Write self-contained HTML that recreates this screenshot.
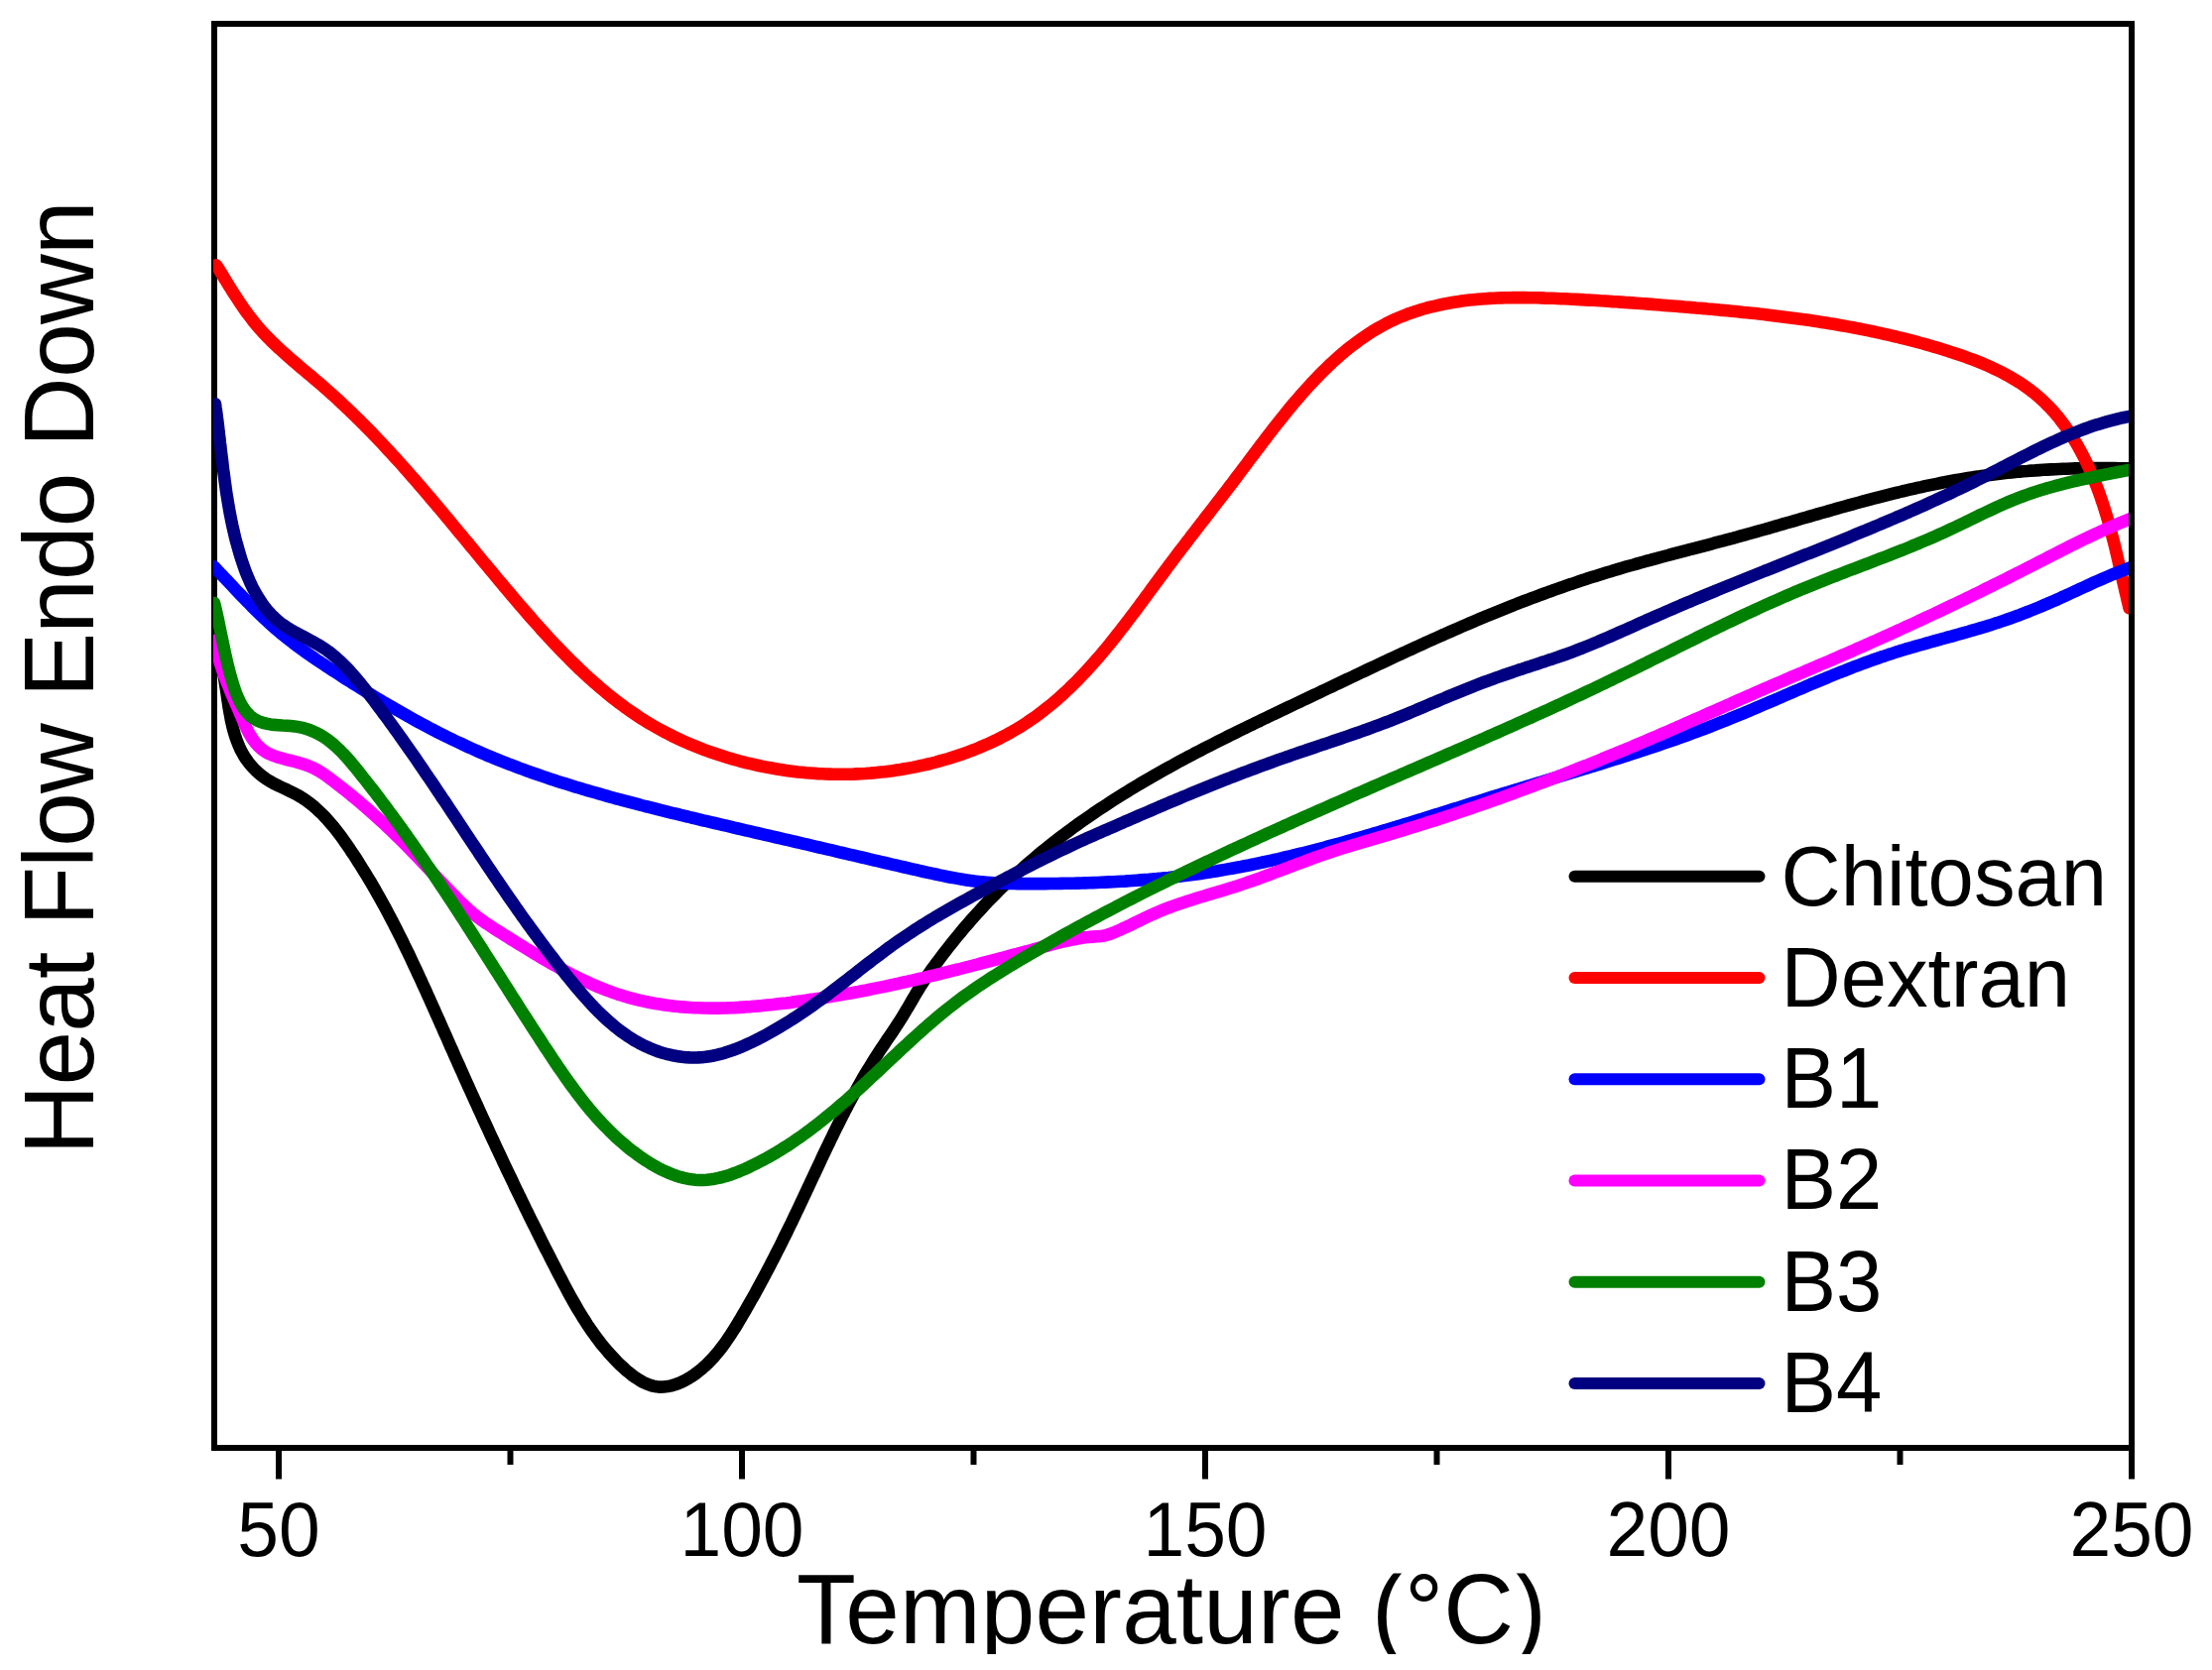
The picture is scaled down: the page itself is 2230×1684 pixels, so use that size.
<!DOCTYPE html>
<html><head><meta charset="utf-8"><title>DSC thermogram</title>
<style>
html,body{margin:0;padding:0;background:#fff}
svg{display:block}
text{font-family:"Liberation Sans",Arial,sans-serif;fill:#000}
</style></head>
<body>
<svg width="2230" height="1684" viewBox="0 0 2230 1684">
<rect width="2230" height="1684" fill="#fff"/>
<defs><clipPath id="t"><rect x="780" y="1586.5" width="800" height="81.5"/></clipPath><clipPath id="c"><rect x="215" y="27" width="1931" height="1430"/></clipPath></defs>
<rect x="216" y="24" width="1933" height="1436" fill="none" stroke="#000" stroke-width="6"/>
<g stroke="#000" stroke-width="6" fill="none">
<line x1="281.0" x2="281.0" y1="1460" y2="1491.5"/><line x1="748.0" x2="748.0" y1="1460" y2="1491.5"/><line x1="1215.0" x2="1215.0" y1="1460" y2="1491.5"/><line x1="1682.0" x2="1682.0" y1="1460" y2="1491.5"/><line x1="2149.0" x2="2149.0" y1="1460" y2="1491.5"/><line x1="514.5" x2="514.5" y1="1460" y2="1477"/><line x1="981.5" x2="981.5" y1="1460" y2="1477"/><line x1="1448.5" x2="1448.5" y1="1460" y2="1477"/><line x1="1915.5" x2="1915.5" y1="1460" y2="1477"/>
</g>
<text transform="translate(281.0,1568.5) scale(1,1.045)" font-size="75" text-anchor="middle">50</text>
<text transform="translate(748.0,1568.5) scale(1,1.045)" font-size="75" text-anchor="middle">100</text>
<text transform="translate(1215.0,1568.5) scale(1,1.045)" font-size="75" text-anchor="middle">150</text>
<text transform="translate(1682.0,1568.5) scale(1,1.045)" font-size="75" text-anchor="middle">200</text>
<text transform="translate(2149.0,1568.5) scale(1,1.045)" font-size="75" text-anchor="middle">250</text>

<g clip-path="url(#c)" fill="none" stroke-width="12.6" stroke-linejoin="round" stroke-linecap="round">
<path d="M216.3,630.1 L216.8,634.2 L217.4,638.2 L218.1,642.1 L218.8,646.0 L219.5,649.9 L220.3,653.8 L221.0,657.6 L221.8,661.5 L222.6,665.3 L223.3,669.2 L224.1,673.1 L224.9,677.0 L225.6,680.9 L226.3,684.8 L226.9,688.8 L227.6,692.9 L228.2,696.9 L228.8,701.0 L229.4,705.1 L230.0,709.2 L230.6,713.3 L231.3,717.4 L232.1,721.5 L232.8,725.6 L233.7,729.6 L234.6,733.5 L235.7,737.5 L236.8,741.3 L238.1,745.1 L239.5,748.9 L241.0,752.5 L242.6,756.1 L244.5,759.5 L246.4,762.9 L248.6,766.1 L250.9,769.2 L253.4,772.2 L256.0,775.1 L258.7,777.8 L261.6,780.4 L264.7,782.9 L267.9,785.2 L271.2,787.3 L274.7,789.3 L278.2,791.1 L281.8,792.9 L285.5,794.6 L289.2,796.3 L292.8,798.1 L296.4,799.9 L300.0,801.8 L303.4,803.8 L306.7,805.9 L310.0,808.2 L313.1,810.6 L316.2,813.0 L319.1,815.6 L322.0,818.3 L324.9,821.0 L327.6,823.9 L330.3,826.8 L332.9,829.8 L335.5,832.8 L338.0,835.9 L340.5,839.1 L342.9,842.3 L345.3,845.5 L347.6,848.8 L349.9,852.1 L352.2,855.4 L354.4,858.8 L356.7,862.1 L358.9,865.5 L361.0,868.9 L363.2,872.3 L365.3,875.7 L367.4,879.1 L369.5,882.5 L371.6,886.0 L373.7,889.4 L375.7,892.9 L377.7,896.3 L379.7,899.8 L381.7,903.3 L383.6,906.8 L385.6,910.3 L387.5,913.8 L389.4,917.3 L391.3,920.9 L393.2,924.4 L395.0,928.0 L396.9,931.5 L398.7,935.1 L400.5,938.6 L402.3,942.2 L404.1,945.8 L405.9,949.4 L407.6,953.0 L409.4,956.6 L411.2,960.2 L412.9,963.8 L414.6,967.4 L416.3,971.1 L418.0,974.7 L419.7,978.3 L421.4,982.0 L423.1,985.6 L424.8,989.2 L426.4,992.9 L428.1,996.5 L429.8,1000.2 L431.4,1003.9 L433.1,1007.5 L434.7,1011.2 L436.3,1014.8 L438.0,1018.5 L439.6,1022.2 L441.2,1025.8 L442.9,1029.5 L444.5,1033.2 L446.1,1036.8 L447.7,1040.5 L449.4,1044.2 L451.0,1047.8 L452.6,1051.5 L454.2,1055.2 L455.9,1058.8 L457.5,1062.5 L459.1,1066.2 L460.7,1069.8 L462.4,1073.5 L464.0,1077.1 L465.7,1080.8 L467.3,1084.5 L468.9,1088.1 L470.6,1091.8 L472.2,1095.4 L473.9,1099.1 L475.5,1102.7 L477.2,1106.4 L478.8,1110.0 L480.5,1113.6 L482.1,1117.3 L483.8,1120.9 L485.5,1124.6 L487.1,1128.2 L488.8,1131.8 L490.5,1135.5 L492.2,1139.1 L493.8,1142.7 L495.5,1146.4 L497.2,1150.0 L498.9,1153.6 L500.6,1157.3 L502.3,1160.9 L504.0,1164.5 L505.7,1168.1 L507.4,1171.8 L509.1,1175.4 L510.8,1179.0 L512.5,1182.6 L514.3,1186.2 L516.0,1189.8 L517.7,1193.4 L519.4,1197.1 L521.2,1200.7 L522.9,1204.3 L524.7,1207.9 L526.4,1211.5 L528.2,1215.1 L529.9,1218.7 L531.7,1222.3 L533.4,1225.9 L535.2,1229.5 L537.0,1233.1 L538.8,1236.6 L540.6,1240.2 L542.3,1243.8 L544.1,1247.4 L545.9,1251.0 L547.7,1254.6 L549.5,1258.2 L551.4,1261.7 L553.2,1265.3 L555.0,1268.9 L556.8,1272.5 L558.7,1276.0 L560.5,1279.6 L562.3,1283.2 L564.2,1286.7 L566.1,1290.3 L567.9,1293.8 L569.8,1297.4 L571.7,1300.9 L573.6,1304.5 L575.5,1308.0 L577.5,1311.5 L579.5,1315.0 L581.5,1318.5 L583.5,1321.9 L585.6,1325.3 L587.7,1328.8 L589.9,1332.1 L592.0,1335.5 L594.3,1338.8 L596.6,1342.2 L598.9,1345.4 L601.2,1348.7 L603.7,1351.9 L606.1,1355.1 L608.7,1358.2 L611.3,1361.3 L613.9,1364.4 L616.7,1367.4 L619.5,1370.4 L622.3,1373.3 L625.2,1376.2 L628.3,1379.0 L631.3,1381.8 L634.5,1384.4 L637.7,1387.0 L641.0,1389.3 L644.4,1391.5 L647.8,1393.5 L651.2,1395.1 L654.7,1396.5 L658.3,1397.6 L661.9,1398.3 L665.6,1398.6 L669.2,1398.5 L672.9,1398.1 L676.6,1397.4 L680.3,1396.3 L684.0,1395.0 L687.7,1393.4 L691.2,1391.6 L694.8,1389.5 L698.3,1387.3 L701.6,1385.0 L704.9,1382.4 L708.1,1379.8 L711.2,1377.1 L714.1,1374.2 L717.0,1371.3 L719.7,1368.4 L722.3,1365.3 L724.9,1362.2 L727.4,1359.0 L729.8,1355.8 L732.1,1352.5 L734.4,1349.2 L736.6,1345.8 L738.8,1342.4 L741.0,1339.0 L743.1,1335.6 L745.1,1332.1 L747.2,1328.7 L749.2,1325.2 L751.3,1321.7 L753.3,1318.2 L755.3,1314.7 L757.2,1311.3 L759.2,1307.8 L761.2,1304.3 L763.1,1300.8 L765.0,1297.2 L766.9,1293.7 L768.8,1290.2 L770.7,1286.7 L772.6,1283.1 L774.5,1279.6 L776.3,1276.1 L778.1,1272.5 L780.0,1269.0 L781.8,1265.4 L783.6,1261.8 L785.4,1258.3 L787.2,1254.7 L789.0,1251.1 L790.7,1247.5 L792.5,1244.0 L794.3,1240.4 L796.0,1236.8 L797.8,1233.2 L799.5,1229.6 L801.2,1226.0 L802.9,1222.4 L804.7,1218.7 L806.4,1215.1 L808.1,1211.5 L809.8,1207.9 L811.5,1204.3 L813.2,1200.6 L814.9,1197.0 L816.6,1193.4 L818.3,1189.7 L820.0,1186.1 L821.7,1182.5 L823.4,1178.8 L825.1,1175.2 L826.8,1171.6 L828.5,1167.9 L830.2,1164.3 L831.9,1160.7 L833.6,1157.1 L835.4,1153.5 L837.1,1149.8 L838.9,1146.2 L840.6,1142.6 L842.4,1139.0 L844.2,1135.4 L846.0,1131.9 L847.8,1128.3 L849.6,1124.7 L851.4,1121.1 L853.3,1117.6 L855.1,1114.0 L857.0,1110.5 L858.9,1107.0 L860.8,1103.4 L862.7,1099.9 L864.7,1096.4 L866.6,1092.9 L868.6,1089.5 L870.6,1086.0 L872.6,1082.5 L874.7,1079.1 L876.8,1075.7 L878.9,1072.3 L881.0,1068.9 L883.1,1065.5 L885.3,1062.1 L887.5,1058.7 L889.7,1055.4 L892.0,1052.1 L894.2,1048.7 L896.5,1045.4 L898.8,1042.1 L901.0,1038.8 L903.2,1035.4 L905.4,1032.1 L907.6,1028.7 L909.7,1025.3 L911.8,1021.8 L913.8,1018.4 L915.9,1014.9 L917.9,1011.5 L919.9,1008.0 L921.9,1004.6 L924.0,1001.1 L926.0,997.7 L928.1,994.3 L930.3,991.0 L932.4,987.6 L934.6,984.3 L936.9,981.0 L939.2,977.8 L941.5,974.6 L943.9,971.4 L946.3,968.2 L948.7,965.0 L951.1,961.8 L953.6,958.6 L956.0,955.5 L958.5,952.3 L961.0,949.2 L963.5,946.1 L966.1,943.0 L968.7,939.9 L971.2,936.8 L973.8,933.7 L976.5,930.7 L979.1,927.7 L981.8,924.6 L984.5,921.6 L987.2,918.7 L989.9,915.7 L992.6,912.8 L995.4,909.8 L998.2,906.9 L1001.0,904.0 L1003.8,901.2 L1006.6,898.3 L1009.5,895.5 L1012.4,892.7 L1015.2,889.9 L1018.2,887.2 L1021.1,884.5 L1024.0,881.7 L1027.0,879.0 L1030.0,876.4 L1033.0,873.7 L1036.0,871.1 L1039.0,868.5 L1042.0,865.9 L1045.1,863.3 L1048.2,860.7 L1051.2,858.2 L1054.4,855.7 L1057.5,853.2 L1060.6,850.7 L1063.8,848.2 L1066.9,845.8 L1070.1,843.4 L1073.3,841.0 L1076.5,838.6 L1079.7,836.2 L1082.9,833.8 L1086.2,831.5 L1089.4,829.2 L1092.7,826.9 L1096.0,824.6 L1099.3,822.3 L1102.6,820.0 L1105.9,817.8 L1109.2,815.6 L1112.5,813.4 L1115.9,811.2 L1119.2,809.0 L1122.6,806.8 L1126.0,804.7 L1129.4,802.5 L1132.8,800.4 L1136.2,798.3 L1139.6,796.2 L1143.0,794.1 L1146.4,792.1 L1149.9,790.0 L1153.3,788.0 L1156.8,786.0 L1160.3,784.0 L1163.7,782.0 L1167.2,780.0 L1170.7,778.0 L1174.2,776.0 L1177.7,774.1 L1181.2,772.2 L1184.7,770.2 L1188.2,768.3 L1191.8,766.4 L1195.3,764.5 L1198.8,762.6 L1202.4,760.8 L1205.9,758.9 L1209.5,757.1 L1213.0,755.2 L1216.6,753.4 L1220.2,751.6 L1223.8,749.7 L1227.3,747.9 L1230.9,746.1 L1234.5,744.3 L1238.1,742.5 L1241.7,740.7 L1245.3,739.0 L1248.9,737.2 L1252.5,735.4 L1256.1,733.7 L1259.7,731.9 L1263.3,730.2 L1266.9,728.4 L1270.5,726.7 L1274.1,724.9 L1277.8,723.2 L1281.4,721.4 L1285.0,719.7 L1288.6,718.0 L1292.2,716.3 L1295.9,714.5 L1299.5,712.8 L1303.1,711.1 L1306.7,709.4 L1310.3,707.7 L1314.0,705.9 L1317.6,704.2 L1321.2,702.5 L1324.8,700.8 L1328.5,699.1 L1332.1,697.3 L1335.7,695.6 L1339.3,693.9 L1342.9,692.2 L1346.6,690.4 L1350.2,688.7 L1353.8,687.0 L1357.4,685.3 L1361.0,683.6 L1364.7,681.9 L1368.3,680.1 L1371.9,678.4 L1375.5,676.7 L1379.1,675.0 L1382.8,673.3 L1386.4,671.6 L1390.0,669.9 L1393.6,668.2 L1397.3,666.5 L1400.9,664.8 L1404.5,663.1 L1408.1,661.4 L1411.8,659.7 L1415.4,658.1 L1419.0,656.4 L1422.7,654.7 L1426.3,653.1 L1430.0,651.4 L1433.6,649.7 L1437.2,648.1 L1440.9,646.4 L1444.5,644.8 L1448.2,643.1 L1451.8,641.5 L1455.5,639.9 L1459.1,638.2 L1462.8,636.6 L1466.5,635.0 L1470.1,633.4 L1473.8,631.8 L1477.5,630.2 L1481.2,628.6 L1484.8,627.1 L1488.5,625.5 L1492.2,623.9 L1495.9,622.4 L1499.6,620.8 L1503.3,619.3 L1507.0,617.8 L1510.7,616.3 L1514.4,614.8 L1518.1,613.3 L1521.8,611.8 L1525.5,610.3 L1529.3,608.9 L1533.0,607.4 L1536.7,606.0 L1540.5,604.6 L1544.2,603.2 L1548.0,601.8 L1551.7,600.4 L1555.5,599.0 L1559.2,597.6 L1563.0,596.3 L1566.7,594.9 L1570.5,593.6 L1574.3,592.3 L1578.1,590.9 L1581.8,589.6 L1585.6,588.4 L1589.4,587.1 L1593.2,585.8 L1597.0,584.6 L1600.8,583.3 L1604.6,582.1 L1608.4,580.9 L1612.2,579.7 L1616.1,578.5 L1619.9,577.3 L1623.7,576.2 L1627.5,575.0 L1631.4,573.9 L1635.2,572.8 L1639.1,571.6 L1642.9,570.5 L1646.8,569.5 L1650.6,568.4 L1654.5,567.3 L1658.3,566.2 L1662.2,565.2 L1666.0,564.1 L1669.9,563.1 L1673.8,562.0 L1677.6,561.0 L1681.5,560.0 L1685.4,558.9 L1689.2,557.9 L1693.1,556.9 L1697.0,555.9 L1700.9,554.9 L1704.7,553.8 L1708.6,552.8 L1712.5,551.8 L1716.4,550.8 L1720.3,549.8 L1724.1,548.8 L1728.0,547.7 L1731.9,546.7 L1735.8,545.7 L1739.6,544.6 L1743.5,543.6 L1747.4,542.6 L1751.3,541.5 L1755.1,540.4 L1759.0,539.4 L1762.9,538.3 L1766.7,537.2 L1770.6,536.1 L1774.5,535.0 L1778.3,534.0 L1782.2,532.9 L1786.0,531.7 L1789.9,530.6 L1793.8,529.5 L1797.6,528.4 L1801.5,527.3 L1805.3,526.2 L1809.2,525.1 L1813.0,524.0 L1816.9,522.8 L1820.8,521.7 L1824.6,520.6 L1828.5,519.5 L1832.3,518.4 L1836.2,517.3 L1840.1,516.2 L1843.9,515.1 L1847.8,514.0 L1851.6,512.9 L1855.5,511.8 L1859.4,510.7 L1863.2,509.7 L1867.1,508.6 L1871.0,507.5 L1874.8,506.5 L1878.7,505.4 L1882.6,504.4 L1886.4,503.4 L1890.3,502.3 L1894.2,501.3 L1898.1,500.3 L1901.9,499.4 L1905.8,498.4 L1909.7,497.4 L1913.6,496.5 L1917.5,495.5 L1921.4,494.6 L1925.3,493.7 L1929.2,492.8 L1933.1,491.9 L1937.0,491.1 L1940.9,490.2 L1944.8,489.4 L1948.7,488.6 L1952.6,487.8 L1956.6,487.0 L1960.5,486.2 L1964.4,485.5 L1968.4,484.7 L1972.3,484.0 L1976.2,483.4 L1980.2,482.7 L1984.1,482.1 L1988.1,481.4 L1992.0,480.8 L1996.0,480.3 L2000.0,479.7 L2003.9,479.2 L2007.9,478.7 L2011.9,478.2 L2015.9,477.7 L2019.8,477.2 L2023.8,476.8 L2027.8,476.4 L2031.8,476.0 L2035.8,475.6 L2039.8,475.3 L2043.8,475.0 L2047.8,474.6 L2051.8,474.4 L2055.8,474.1 L2059.8,473.8 L2063.8,473.6 L2067.8,473.4 L2071.8,473.2 L2075.8,473.0 L2079.9,472.8 L2083.9,472.7 L2087.9,472.5 L2091.9,472.4 L2095.9,472.3 L2099.9,472.2 L2103.9,472.1 L2107.9,472.1 L2111.9,472.1 L2116.0,472.0 L2120.0,472.0 L2124.0,472.0 L2128.0,472.1 L2132.0,472.1 L2136.0,472.2 L2140.0,472.2 L2144.0,472.3 L2148.0,472.4 L2152.0,472.5 L2156.0,472.7" stroke="#000000"/>
<path d="M218.0,267.3 L220.2,270.7 L222.3,274.1 L224.4,277.6 L226.4,281.0 L228.6,284.4 L230.7,287.9 L232.8,291.3 L234.9,294.7 L237.1,298.0 L239.3,301.4 L241.5,304.7 L243.7,308.0 L246.0,311.3 L248.3,314.6 L250.7,317.8 L253.1,320.9 L255.5,324.1 L258.0,327.1 L260.6,330.2 L263.2,333.2 L265.9,336.1 L268.6,339.0 L271.4,341.8 L274.3,344.7 L277.1,347.4 L280.0,350.2 L283.0,352.9 L286.0,355.6 L289.0,358.3 L292.0,360.9 L295.0,363.6 L298.1,366.2 L301.2,368.8 L304.2,371.4 L307.3,374.0 L310.4,376.6 L313.5,379.2 L316.6,381.8 L319.7,384.5 L322.7,387.1 L325.8,389.7 L328.8,392.4 L331.8,395.0 L334.8,397.7 L337.8,400.4 L340.8,403.1 L343.7,405.9 L346.6,408.6 L349.5,411.4 L352.4,414.1 L355.3,416.9 L358.2,419.7 L361.0,422.5 L363.9,425.3 L366.7,428.2 L369.5,431.0 L372.3,433.8 L375.1,436.7 L377.9,439.6 L380.6,442.5 L383.4,445.4 L386.1,448.3 L388.8,451.2 L391.5,454.1 L394.2,457.0 L396.9,460.0 L399.6,462.9 L402.3,465.9 L405.0,468.9 L407.6,471.9 L410.3,474.8 L412.9,477.8 L415.5,480.8 L418.2,483.8 L420.8,486.8 L423.4,489.9 L426.0,492.9 L428.6,495.9 L431.2,499.0 L433.8,502.0 L436.4,505.1 L439.0,508.1 L441.5,511.2 L444.1,514.2 L446.7,517.3 L449.2,520.4 L451.8,523.4 L454.4,526.5 L456.9,529.6 L459.5,532.7 L462.0,535.8 L464.6,538.8 L467.1,541.9 L469.7,545.0 L472.3,548.1 L474.8,551.2 L477.4,554.3 L479.9,557.4 L482.5,560.5 L485.0,563.6 L487.6,566.7 L490.2,569.8 L492.7,572.9 L495.3,575.9 L497.9,579.0 L500.4,582.1 L503.0,585.2 L505.6,588.3 L508.2,591.4 L510.8,594.5 L513.4,597.5 L516.0,600.6 L518.6,603.7 L521.2,606.8 L523.8,609.8 L526.5,612.9 L529.1,615.9 L531.8,619.0 L534.4,622.0 L537.1,625.1 L539.8,628.1 L542.5,631.1 L545.1,634.1 L547.9,637.1 L550.6,640.1 L553.3,643.1 L556.0,646.0 L558.8,649.0 L561.6,651.9 L564.3,654.8 L567.1,657.7 L570.0,660.6 L572.8,663.4 L575.6,666.3 L578.5,669.1 L581.4,671.9 L584.2,674.7 L587.2,677.4 L590.1,680.2 L593.0,682.9 L596.0,685.5 L599.0,688.2 L602.0,690.8 L605.0,693.4 L608.1,696.0 L611.1,698.6 L614.2,701.1 L617.3,703.6 L620.5,706.0 L623.6,708.4 L626.8,710.8 L630.0,713.2 L633.2,715.5 L636.5,717.7 L639.8,720.0 L643.1,722.2 L646.4,724.4 L649.7,726.5 L653.1,728.6 L656.5,730.6 L660.0,732.6 L663.5,734.6 L667.0,736.5 L670.5,738.4 L674.0,740.2 L677.6,742.0 L681.2,743.8 L684.8,745.5 L688.5,747.2 L692.1,748.8 L695.8,750.4 L699.5,751.9 L703.2,753.4 L707.0,754.9 L710.7,756.3 L714.5,757.7 L718.3,759.0 L722.1,760.3 L726.0,761.6 L729.8,762.8 L733.6,764.0 L737.5,765.1 L741.4,766.2 L745.3,767.3 L749.2,768.3 L753.1,769.3 L757.0,770.2 L760.9,771.1 L764.9,772.0 L768.8,772.8 L772.8,773.6 L776.7,774.3 L780.7,775.0 L784.7,775.7 L788.6,776.3 L792.6,776.9 L796.6,777.4 L800.5,777.9 L804.5,778.4 L808.5,778.8 L812.5,779.2 L816.5,779.5 L820.4,779.8 L824.4,780.1 L828.4,780.3 L832.4,780.5 L836.4,780.6 L840.4,780.7 L844.4,780.7 L848.3,780.8 L852.3,780.7 L856.3,780.7 L860.3,780.6 L864.3,780.4 L868.3,780.2 L872.3,780.0 L876.3,779.7 L880.2,779.4 L884.2,779.0 L888.2,778.6 L892.2,778.2 L896.1,777.7 L900.1,777.2 L904.1,776.6 L908.1,776.0 L912.0,775.3 L916.0,774.6 L920.0,773.9 L923.9,773.1 L927.9,772.2 L931.8,771.4 L935.7,770.5 L939.7,769.5 L943.6,768.5 L947.5,767.4 L951.4,766.3 L955.3,765.2 L959.2,764.0 L963.0,762.8 L966.9,761.5 L970.7,760.2 L974.5,758.8 L978.3,757.4 L982.1,756.0 L985.8,754.5 L989.5,752.9 L993.2,751.3 L996.9,749.7 L1000.6,748.0 L1004.2,746.3 L1007.8,744.5 L1011.3,742.6 L1014.9,740.8 L1018.4,738.9 L1021.8,736.9 L1025.3,734.9 L1028.7,732.8 L1032.0,730.7 L1035.4,728.5 L1038.6,726.3 L1041.9,724.1 L1045.1,721.8 L1048.3,719.4 L1051.4,717.0 L1054.5,714.6 L1057.6,712.1 L1060.7,709.6 L1063.7,707.1 L1066.7,704.5 L1069.6,701.8 L1072.5,699.2 L1075.4,696.5 L1078.3,693.8 L1081.1,691.0 L1084.0,688.2 L1086.8,685.4 L1089.5,682.5 L1092.3,679.6 L1095.0,676.7 L1097.7,673.8 L1100.4,670.8 L1103.0,667.8 L1105.7,664.8 L1108.3,661.8 L1110.9,658.7 L1113.5,655.7 L1116.0,652.6 L1118.6,649.5 L1121.1,646.3 L1123.6,643.2 L1126.1,640.0 L1128.6,636.9 L1131.1,633.7 L1133.6,630.5 L1136.0,627.3 L1138.5,624.0 L1140.9,620.8 L1143.4,617.6 L1145.8,614.4 L1148.2,611.1 L1150.6,607.9 L1153.0,604.6 L1155.4,601.4 L1157.8,598.1 L1160.2,594.8 L1162.6,591.6 L1165.0,588.3 L1167.4,585.1 L1169.8,581.8 L1172.2,578.6 L1174.6,575.4 L1177.0,572.1 L1179.4,568.9 L1181.8,565.7 L1184.2,562.5 L1186.6,559.3 L1189.0,556.1 L1191.4,553.0 L1193.9,549.8 L1196.3,546.6 L1198.7,543.5 L1201.1,540.3 L1203.6,537.2 L1206.0,534.0 L1208.4,530.9 L1210.8,527.7 L1213.3,524.6 L1215.7,521.4 L1218.1,518.3 L1220.6,515.1 L1223.0,512.0 L1225.4,508.9 L1227.9,505.7 L1230.3,502.6 L1232.7,499.4 L1235.1,496.3 L1237.6,493.1 L1240.0,489.9 L1242.4,486.8 L1244.8,483.6 L1247.2,480.4 L1249.6,477.2 L1252.0,474.0 L1254.4,470.9 L1256.8,467.7 L1259.2,464.4 L1261.6,461.2 L1264.1,458.0 L1266.5,454.8 L1268.9,451.6 L1271.3,448.4 L1273.7,445.2 L1276.2,442.0 L1278.6,438.8 L1281.1,435.6 L1283.5,432.4 L1286.0,429.3 L1288.5,426.1 L1291.0,423.0 L1293.5,419.8 L1296.0,416.7 L1298.6,413.5 L1301.2,410.4 L1303.7,407.3 L1306.4,404.3 L1309.0,401.2 L1311.6,398.1 L1314.3,395.1 L1317.0,392.1 L1319.7,389.1 L1322.5,386.1 L1325.2,383.2 L1328.0,380.3 L1330.8,377.4 L1333.7,374.5 L1336.6,371.7 L1339.5,368.9 L1342.4,366.1 L1345.4,363.4 L1348.4,360.7 L1351.4,358.1 L1354.4,355.5 L1357.5,352.9 L1360.6,350.4 L1363.8,348.0 L1367.0,345.6 L1370.2,343.2 L1373.4,340.9 L1376.7,338.7 L1380.0,336.5 L1383.4,334.3 L1386.8,332.3 L1390.2,330.3 L1393.6,328.4 L1397.1,326.5 L1400.7,324.7 L1404.2,323.0 L1407.9,321.3 L1411.5,319.8 L1415.2,318.3 L1418.9,316.8 L1422.7,315.5 L1426.5,314.2 L1430.3,313.0 L1434.1,311.8 L1438.0,310.7 L1441.9,309.7 L1445.8,308.8 L1449.7,307.9 L1453.7,307.0 L1457.6,306.2 L1461.6,305.5 L1465.6,304.8 L1469.6,304.2 L1473.6,303.6 L1477.6,303.1 L1481.6,302.6 L1485.6,302.2 L1489.6,301.8 L1493.6,301.5 L1497.6,301.2 L1501.6,300.9 L1505.6,300.7 L1509.6,300.5 L1513.6,300.4 L1517.6,300.3 L1521.6,300.2 L1525.6,300.1 L1529.6,300.1 L1533.6,300.1 L1537.6,300.1 L1541.6,300.2 L1545.6,300.2 L1549.6,300.3 L1553.6,300.4 L1557.6,300.6 L1561.6,300.7 L1565.6,300.8 L1569.6,301.0 L1573.6,301.2 L1577.6,301.3 L1581.6,301.5 L1585.6,301.7 L1589.6,301.9 L1593.7,302.1 L1597.7,302.4 L1601.7,302.6 L1605.7,302.8 L1609.7,303.0 L1613.7,303.3 L1617.7,303.5 L1621.7,303.8 L1625.7,304.1 L1629.7,304.3 L1633.8,304.6 L1637.8,304.9 L1641.8,305.1 L1645.8,305.4 L1649.8,305.7 L1653.8,306.0 L1657.8,306.3 L1661.8,306.6 L1665.8,306.9 L1669.8,307.2 L1673.8,307.5 L1677.8,307.9 L1681.9,308.2 L1685.9,308.5 L1689.9,308.8 L1693.9,309.1 L1697.9,309.5 L1701.8,309.8 L1705.8,310.1 L1709.8,310.5 L1713.8,310.8 L1717.8,311.1 L1721.8,311.5 L1725.8,311.8 L1729.8,312.2 L1733.8,312.6 L1737.7,312.9 L1741.7,313.3 L1745.7,313.7 L1749.7,314.1 L1753.7,314.5 L1757.6,314.9 L1761.6,315.3 L1765.6,315.7 L1769.6,316.1 L1773.5,316.6 L1777.5,317.0 L1781.5,317.4 L1785.4,317.9 L1789.4,318.4 L1793.4,318.9 L1797.3,319.4 L1801.3,319.9 L1805.2,320.4 L1809.2,320.9 L1813.1,321.4 L1817.1,322.0 L1821.1,322.5 L1825.0,323.1 L1829.0,323.7 L1832.9,324.3 L1836.8,324.9 L1840.8,325.5 L1844.7,326.2 L1848.7,326.8 L1852.6,327.5 L1856.5,328.2 L1860.5,328.9 L1864.4,329.6 L1868.3,330.3 L1872.3,331.1 L1876.2,331.8 L1880.1,332.6 L1884.0,333.4 L1888.0,334.2 L1891.9,335.1 L1895.8,335.9 L1899.7,336.8 L1903.6,337.7 L1907.6,338.6 L1911.5,339.5 L1915.4,340.5 L1919.3,341.4 L1923.2,342.4 L1927.1,343.4 L1931.0,344.4 L1934.9,345.5 L1938.8,346.5 L1942.7,347.6 L1946.6,348.7 L1950.5,349.9 L1954.4,351.0 L1958.3,352.2 L1962.2,353.4 L1966.0,354.7 L1969.9,355.9 L1973.8,357.2 L1977.6,358.5 L1981.5,359.9 L1985.3,361.3 L1989.1,362.7 L1992.9,364.2 L1996.6,365.7 L2000.3,367.2 L2004.0,368.8 L2007.7,370.5 L2011.3,372.2 L2014.9,373.9 L2018.5,375.7 L2022.0,377.6 L2025.5,379.5 L2028.9,381.5 L2032.3,383.5 L2035.7,385.6 L2039.0,387.8 L2042.2,390.0 L2045.4,392.3 L2048.5,394.7 L2051.6,397.1 L2054.6,399.6 L2057.5,402.2 L2060.4,404.9 L2063.2,407.7 L2066.0,410.5 L2068.7,413.4 L2071.3,416.3 L2073.9,419.3 L2076.4,422.4 L2078.8,425.6 L2081.2,428.8 L2083.5,432.0 L2085.8,435.3 L2088.0,438.7 L2090.1,442.1 L2092.2,445.5 L2094.3,449.0 L2096.2,452.5 L2098.2,456.1 L2100.1,459.7 L2101.9,463.3 L2103.7,467.0 L2105.4,470.7 L2107.1,474.4 L2108.7,478.1 L2110.3,481.8 L2111.8,485.6 L2113.3,489.4 L2114.8,493.2 L2116.2,497.0 L2117.5,500.8 L2118.8,504.6 L2120.1,508.4 L2121.3,512.2 L2122.5,516.1 L2123.7,519.9 L2124.8,523.7 L2125.9,527.5 L2127.0,531.4 L2128.0,535.2 L2129.0,539.0 L2130.0,542.9 L2131.0,546.7 L2132.0,550.6 L2132.9,554.5 L2133.8,558.3 L2134.7,562.2 L2135.6,566.1 L2136.5,570.0 L2137.4,573.8 L2138.3,577.7 L2139.2,581.6 L2140.1,585.5 L2141.0,589.5 L2141.9,593.4 L2142.8,597.3 L2143.7,601.2 L2144.6,605.2 L2145.6,609.1 L2146.5,613.1" stroke="#ff0000"/>
<path d="M215.7,571.4 L218.5,574.3 L221.2,577.2 L224.0,580.1 L226.7,583.0 L229.5,585.9 L232.2,588.8 L235.0,591.8 L237.7,594.7 L240.5,597.6 L243.3,600.5 L246.1,603.4 L248.9,606.3 L251.7,609.1 L254.5,612.0 L257.3,614.8 L260.2,617.6 L263.1,620.4 L266.0,623.2 L268.9,625.9 L271.8,628.6 L274.8,631.3 L277.8,633.9 L280.8,636.5 L283.9,639.1 L287.0,641.6 L290.1,644.1 L293.3,646.6 L296.4,649.0 L299.6,651.4 L302.8,653.8 L306.1,656.1 L309.3,658.5 L312.6,660.7 L315.9,663.0 L319.2,665.3 L322.5,667.5 L325.9,669.7 L329.2,672.0 L332.6,674.2 L335.9,676.4 L339.3,678.5 L342.7,680.7 L346.0,682.9 L349.4,685.1 L352.8,687.2 L356.2,689.4 L359.6,691.5 L363.0,693.6 L366.4,695.8 L369.8,697.9 L373.3,700.0 L376.7,702.1 L380.1,704.1 L383.6,706.2 L387.0,708.3 L390.5,710.3 L393.9,712.3 L397.4,714.3 L400.9,716.3 L404.4,718.3 L407.9,720.3 L411.4,722.3 L414.9,724.2 L418.4,726.2 L421.9,728.1 L425.4,730.0 L429.0,731.9 L432.5,733.8 L436.1,735.6 L439.6,737.5 L443.2,739.3 L446.8,741.1 L450.3,742.9 L453.9,744.6 L457.5,746.4 L461.2,748.1 L464.8,749.8 L468.4,751.5 L472.0,753.2 L475.7,754.9 L479.3,756.5 L483.0,758.1 L486.7,759.7 L490.3,761.3 L494.0,762.8 L497.7,764.4 L501.4,765.9 L505.1,767.4 L508.9,768.8 L512.6,770.3 L516.3,771.7 L520.1,773.2 L523.8,774.6 L527.6,775.9 L531.3,777.3 L535.1,778.7 L538.9,780.0 L542.7,781.3 L546.5,782.6 L550.3,783.9 L554.1,785.2 L557.9,786.4 L561.7,787.7 L565.5,788.9 L569.3,790.1 L573.2,791.3 L577.0,792.5 L580.8,793.7 L584.7,794.8 L588.5,796.0 L592.4,797.1 L596.2,798.2 L600.1,799.3 L603.9,800.4 L607.8,801.5 L611.7,802.6 L615.5,803.7 L619.4,804.8 L623.3,805.8 L627.2,806.9 L631.1,807.9 L634.9,808.9 L638.8,809.9 L642.7,810.9 L646.6,812.0 L650.5,813.0 L654.4,813.9 L658.3,814.9 L662.1,815.9 L666.0,816.9 L669.9,817.8 L673.8,818.8 L677.7,819.8 L681.6,820.7 L685.5,821.7 L689.4,822.6 L693.3,823.5 L697.2,824.5 L701.1,825.4 L705.0,826.3 L708.9,827.3 L712.8,828.2 L716.7,829.1 L720.6,830.0 L724.5,830.9 L728.4,831.8 L732.3,832.7 L736.2,833.6 L740.1,834.6 L744.0,835.5 L747.9,836.4 L751.8,837.3 L755.7,838.2 L759.6,839.1 L763.5,840.0 L767.4,840.9 L771.3,841.8 L775.2,842.7 L779.1,843.6 L783.0,844.5 L786.9,845.4 L790.8,846.3 L794.7,847.2 L798.6,848.1 L802.5,849.0 L806.4,849.9 L810.3,850.8 L814.2,851.7 L818.1,852.7 L822.0,853.6 L825.9,854.5 L829.8,855.4 L833.8,856.3 L837.7,857.2 L841.6,858.1 L845.5,859.1 L849.4,860.0 L853.3,860.9 L857.2,861.8 L861.1,862.7 L865.0,863.6 L868.9,864.5 L872.8,865.4 L876.7,866.4 L880.6,867.3 L884.5,868.2 L888.4,869.1 L892.3,870.0 L896.2,870.9 L900.1,871.8 L904.0,872.7 L907.9,873.6 L911.8,874.5 L915.7,875.4 L919.6,876.3 L923.6,877.2 L927.5,878.1 L931.4,879.0 L935.3,879.8 L939.2,880.7 L943.1,881.5 L947.0,882.4 L950.9,883.2 L954.8,884.0 L958.7,884.7 L962.7,885.4 L966.6,886.1 L970.5,886.8 L974.5,887.4 L978.4,887.9 L982.3,888.5 L986.3,888.9 L990.2,889.4 L994.2,889.7 L998.2,890.0 L1002.1,890.3 L1006.1,890.5 L1010.1,890.7 L1014.1,890.8 L1018.1,891.0 L1022.1,891.0 L1026.1,891.1 L1030.1,891.1 L1034.1,891.1 L1038.1,891.1 L1042.1,891.1 L1046.1,891.1 L1050.1,891.1 L1054.1,891.1 L1058.1,891.0 L1062.1,891.0 L1066.1,891.0 L1070.1,890.9 L1074.1,890.8 L1078.1,890.8 L1082.1,890.7 L1086.1,890.6 L1090.1,890.5 L1094.1,890.4 L1098.1,890.3 L1102.2,890.1 L1106.2,890.0 L1110.2,889.8 L1114.2,889.6 L1118.2,889.4 L1122.2,889.2 L1126.2,889.0 L1130.2,888.8 L1134.2,888.6 L1138.3,888.3 L1142.3,888.0 L1146.3,887.7 L1150.3,887.4 L1154.3,887.1 L1158.3,886.8 L1162.3,886.4 L1166.3,886.1 L1170.3,885.7 L1174.3,885.3 L1178.3,884.9 L1182.3,884.4 L1186.3,884.0 L1190.2,883.5 L1194.2,883.0 L1198.2,882.5 L1202.2,882.0 L1206.2,881.5 L1210.1,880.9 L1214.1,880.3 L1218.1,879.7 L1222.0,879.1 L1226.0,878.5 L1229.9,877.8 L1233.9,877.1 L1237.8,876.4 L1241.7,875.7 L1245.7,875.0 L1249.6,874.3 L1253.5,873.5 L1257.5,872.8 L1261.4,872.0 L1265.3,871.2 L1269.2,870.3 L1273.1,869.5 L1277.0,868.7 L1281.0,867.8 L1284.9,866.9 L1288.8,866.1 L1292.7,865.2 L1296.6,864.2 L1300.5,863.3 L1304.3,862.4 L1308.2,861.4 L1312.1,860.5 L1316.0,859.5 L1319.9,858.5 L1323.8,857.5 L1327.6,856.5 L1331.5,855.5 L1335.4,854.5 L1339.3,853.4 L1343.1,852.4 L1347.0,851.3 L1350.9,850.3 L1354.7,849.2 L1358.6,848.1 L1362.4,847.0 L1366.3,845.9 L1370.2,844.8 L1374.0,843.7 L1377.9,842.6 L1381.7,841.5 L1385.6,840.3 L1389.4,839.2 L1393.3,838.0 L1397.1,836.9 L1400.9,835.7 L1404.8,834.6 L1408.6,833.4 L1412.5,832.3 L1416.3,831.1 L1420.1,829.9 L1424.0,828.7 L1427.8,827.5 L1431.7,826.4 L1435.5,825.2 L1439.3,824.0 L1443.2,822.8 L1447.0,821.6 L1450.8,820.4 L1454.6,819.2 L1458.5,818.0 L1462.3,816.8 L1466.1,815.6 L1470.0,814.4 L1473.8,813.2 L1477.6,812.0 L1481.4,810.8 L1485.3,809.6 L1489.1,808.4 L1492.9,807.2 L1496.8,806.0 L1500.6,804.8 L1504.4,803.6 L1508.2,802.4 L1512.1,801.3 L1515.9,800.1 L1519.7,798.9 L1523.5,797.7 L1527.4,796.6 L1531.2,795.4 L1535.0,794.2 L1538.9,793.1 L1542.7,791.9 L1546.5,790.7 L1550.3,789.6 L1554.2,788.4 L1558.0,787.2 L1561.8,786.1 L1565.7,784.9 L1569.5,783.8 L1573.3,782.6 L1577.1,781.4 L1581.0,780.3 L1584.8,779.1 L1588.6,777.9 L1592.5,776.8 L1596.3,775.6 L1600.1,774.4 L1603.9,773.2 L1607.8,772.1 L1611.6,770.9 L1615.4,769.7 L1619.2,768.5 L1623.1,767.3 L1626.9,766.1 L1630.7,764.9 L1634.5,763.7 L1638.4,762.5 L1642.2,761.2 L1646.0,760.0 L1649.8,758.8 L1653.6,757.5 L1657.4,756.3 L1661.2,755.0 L1665.1,753.8 L1668.9,752.5 L1672.7,751.2 L1676.5,749.9 L1680.3,748.6 L1684.1,747.3 L1687.8,746.0 L1691.6,744.7 L1695.4,743.3 L1699.2,742.0 L1703.0,740.6 L1706.7,739.2 L1710.5,737.8 L1714.3,736.4 L1718.0,735.0 L1721.8,733.6 L1725.5,732.1 L1729.2,730.7 L1733.0,729.2 L1736.7,727.7 L1740.4,726.3 L1744.1,724.7 L1747.9,723.2 L1751.6,721.7 L1755.3,720.2 L1759.0,718.6 L1762.7,717.1 L1766.4,715.5 L1770.1,713.9 L1773.7,712.4 L1777.4,710.8 L1781.1,709.2 L1784.8,707.6 L1788.5,706.1 L1792.2,704.5 L1795.8,702.9 L1799.5,701.3 L1803.2,699.7 L1806.9,698.1 L1810.6,696.5 L1814.3,695.0 L1817.9,693.4 L1821.6,691.8 L1825.3,690.2 L1829.0,688.7 L1832.7,687.1 L1836.4,685.6 L1840.1,684.1 L1843.8,682.5 L1847.5,681.0 L1851.2,679.5 L1854.9,678.0 L1858.7,676.6 L1862.4,675.1 L1866.1,673.6 L1869.8,672.2 L1873.6,670.8 L1877.3,669.4 L1881.1,668.0 L1884.9,666.6 L1888.6,665.3 L1892.4,664.0 L1896.2,662.6 L1900.0,661.4 L1903.8,660.1 L1907.6,658.9 L1911.4,657.6 L1915.2,656.4 L1919.1,655.3 L1922.9,654.1 L1926.8,653.0 L1930.6,651.9 L1934.5,650.8 L1938.4,649.7 L1942.2,648.6 L1946.1,647.5 L1950.0,646.4 L1953.8,645.4 L1957.7,644.3 L1961.6,643.2 L1965.5,642.2 L1969.3,641.1 L1973.2,640.0 L1977.1,638.9 L1980.9,637.9 L1984.8,636.8 L1988.6,635.6 L1992.5,634.5 L1996.3,633.4 L2000.2,632.2 L2004.0,631.1 L2007.8,629.9 L2011.6,628.6 L2015.4,627.4 L2019.2,626.1 L2023.0,624.8 L2026.7,623.5 L2030.5,622.1 L2034.2,620.8 L2037.9,619.4 L2041.7,617.9 L2045.4,616.5 L2049.1,615.0 L2052.8,613.5 L2056.5,612.0 L2060.1,610.4 L2063.8,608.9 L2067.5,607.3 L2071.1,605.7 L2074.8,604.1 L2078.4,602.4 L2082.1,600.8 L2085.7,599.1 L2089.4,597.4 L2093.0,595.7 L2096.6,594.1 L2100.3,592.4 L2103.9,590.7 L2107.6,589.0 L2111.2,587.3 L2114.9,585.7 L2118.6,584.1 L2122.3,582.5 L2125.9,580.9 L2129.6,579.3 L2133.4,577.8 L2137.1,576.3 L2140.8,574.9 L2144.6,573.5 L2148.4,572.1 L2152.2,570.8 L2156.0,569.6" stroke="#0000ff"/>
<path d="M216.6,645.9 L217.3,649.9 L218.1,653.9 L219.0,657.9 L220.0,661.8 L221.0,665.6 L222.2,669.5 L223.4,673.3 L224.7,677.1 L226.0,680.8 L227.4,684.6 L228.8,688.3 L230.3,692.0 L231.8,695.7 L233.3,699.4 L234.9,703.1 L236.5,706.7 L238.1,710.4 L239.7,714.1 L241.3,717.9 L242.9,721.6 L244.5,725.3 L246.1,729.1 L247.8,732.8 L249.5,736.4 L251.4,740.0 L253.5,743.4 L255.7,746.7 L258.1,749.8 L260.8,752.7 L263.7,755.4 L266.9,757.7 L270.4,759.7 L274.0,761.3 L277.7,762.7 L281.6,763.9 L285.5,765.0 L289.4,766.1 L293.3,767.0 L297.3,768.0 L301.2,769.1 L305.0,770.2 L308.8,771.5 L312.5,772.9 L316.1,774.5 L319.6,776.4 L323.1,778.4 L326.4,780.6 L329.7,782.9 L333.0,785.3 L336.2,787.7 L339.4,790.2 L342.6,792.7 L345.8,795.2 L348.9,797.7 L352.1,800.2 L355.2,802.8 L358.3,805.3 L361.4,807.9 L364.4,810.5 L367.5,813.1 L370.5,815.8 L373.5,818.4 L376.5,821.1 L379.5,823.8 L382.5,826.5 L385.4,829.2 L388.4,831.9 L391.3,834.7 L394.2,837.4 L397.1,840.2 L399.9,843.0 L402.8,845.8 L405.6,848.6 L408.5,851.4 L411.3,854.3 L414.1,857.1 L416.8,860.0 L419.6,862.8 L422.4,865.7 L425.1,868.6 L427.9,871.5 L430.6,874.4 L433.4,877.3 L436.1,880.2 L438.9,883.1 L441.6,886.0 L444.4,889.0 L447.2,891.9 L449.9,894.8 L452.7,897.7 L455.5,900.6 L458.3,903.5 L461.2,906.4 L464.0,909.3 L466.9,912.2 L469.8,914.9 L472.8,917.6 L475.8,920.2 L478.9,922.8 L482.0,925.2 L485.2,927.6 L488.4,929.9 L491.7,932.1 L495.0,934.3 L498.3,936.5 L501.6,938.6 L505.0,940.7 L508.4,942.8 L511.8,944.9 L515.2,947.1 L518.6,949.2 L522.0,951.3 L525.4,953.4 L528.8,955.5 L532.3,957.6 L535.7,959.7 L539.2,961.8 L542.7,963.9 L546.2,966.0 L549.7,968.0 L553.2,970.0 L556.7,972.1 L560.2,974.0 L563.8,976.0 L567.3,977.9 L570.9,979.8 L574.5,981.7 L578.1,983.6 L581.7,985.4 L585.3,987.1 L588.9,988.9 L592.6,990.5 L596.3,992.2 L599.9,993.8 L603.6,995.4 L607.4,996.9 L611.1,998.3 L614.8,999.7 L618.6,1001.1 L622.4,1002.4 L626.2,1003.6 L630.0,1004.8 L633.8,1005.9 L637.6,1006.9 L641.5,1007.9 L645.4,1008.8 L649.3,1009.7 L653.2,1010.5 L657.1,1011.3 L661.0,1012.0 L665.0,1012.6 L668.9,1013.2 L672.9,1013.8 L676.8,1014.2 L680.8,1014.7 L684.8,1015.1 L688.8,1015.4 L692.8,1015.7 L696.8,1016.0 L700.8,1016.2 L704.8,1016.3 L708.8,1016.5 L712.8,1016.5 L716.8,1016.6 L720.9,1016.6 L724.9,1016.6 L728.9,1016.5 L732.9,1016.4 L736.9,1016.2 L740.9,1016.1 L745.0,1015.9 L749.0,1015.6 L753.0,1015.3 L757.0,1015.1 L761.0,1014.7 L765.0,1014.4 L769.0,1014.0 L773.0,1013.6 L776.9,1013.2 L780.9,1012.8 L784.9,1012.3 L788.9,1011.8 L792.9,1011.4 L796.9,1010.9 L800.8,1010.3 L804.8,1009.8 L808.8,1009.3 L812.8,1008.7 L816.7,1008.1 L820.7,1007.6 L824.6,1007.0 L828.6,1006.4 L832.6,1005.7 L836.5,1005.1 L840.5,1004.4 L844.4,1003.8 L848.4,1003.1 L852.3,1002.4 L856.2,1001.7 L860.2,1001.0 L864.1,1000.3 L868.0,999.5 L872.0,998.8 L875.9,998.0 L879.8,997.2 L883.8,996.4 L887.7,995.6 L891.6,994.8 L895.5,994.0 L899.4,993.1 L903.4,992.3 L907.3,991.4 L911.2,990.5 L915.1,989.7 L919.0,988.8 L922.9,987.9 L926.8,987.0 L930.7,986.1 L934.6,985.1 L938.5,984.2 L942.4,983.3 L946.3,982.3 L950.2,981.4 L954.1,980.4 L958.0,979.4 L961.9,978.4 L965.8,977.5 L969.7,976.5 L973.6,975.5 L977.5,974.5 L981.4,973.5 L985.3,972.5 L989.2,971.4 L993.1,970.4 L997.0,969.4 L1000.9,968.4 L1004.8,967.4 L1008.6,966.3 L1012.5,965.3 L1016.4,964.2 L1020.3,963.2 L1024.2,962.2 L1028.1,961.1 L1032.0,960.1 L1035.9,959.0 L1039.8,958.0 L1043.7,956.9 L1047.6,955.9 L1051.5,954.8 L1055.3,953.8 L1059.2,952.7 L1063.1,951.7 L1067.0,950.7 L1070.9,949.7 L1074.8,948.8 L1078.7,948.0 L1082.6,947.2 L1086.5,946.5 L1090.3,945.8 L1094.2,945.3 L1098.1,944.9 L1101.9,944.6 L1105.8,944.3 L1109.6,944.1 L1113.3,943.5 L1117.0,942.5 L1120.6,941.2 L1124.2,939.8 L1127.8,938.3 L1131.3,936.6 L1134.9,935.0 L1138.6,933.3 L1142.2,931.5 L1145.8,929.7 L1149.4,928.0 L1153.1,926.2 L1156.8,924.4 L1160.4,922.7 L1164.1,921.1 L1167.8,919.5 L1171.6,917.9 L1175.3,916.4 L1179.1,915.0 L1182.8,913.6 L1186.6,912.3 L1190.4,910.9 L1194.2,909.7 L1198.0,908.4 L1201.9,907.2 L1205.7,906.0 L1209.5,904.8 L1213.4,903.7 L1217.2,902.5 L1221.0,901.4 L1224.9,900.2 L1228.7,899.1 L1232.6,897.9 L1236.4,896.7 L1240.2,895.6 L1244.0,894.4 L1247.9,893.2 L1251.7,891.9 L1255.5,890.6 L1259.3,889.3 L1263.1,888.0 L1266.8,886.7 L1270.6,885.3 L1274.4,883.9 L1278.2,882.5 L1281.9,881.1 L1285.7,879.7 L1289.4,878.3 L1293.2,876.9 L1297.0,875.5 L1300.7,874.0 L1304.5,872.6 L1308.2,871.2 L1312.0,869.8 L1315.8,868.4 L1319.5,867.0 L1323.3,865.6 L1327.1,864.2 L1330.9,862.9 L1334.7,861.6 L1338.5,860.3 L1342.3,859.0 L1346.1,857.8 L1349.9,856.6 L1353.7,855.3 L1357.6,854.2 L1361.4,853.0 L1365.3,851.8 L1369.1,850.7 L1373.0,849.5 L1376.8,848.4 L1380.7,847.2 L1384.5,846.1 L1388.4,845.0 L1392.2,843.9 L1396.1,842.7 L1399.9,841.6 L1403.8,840.5 L1407.6,839.3 L1411.5,838.2 L1415.3,837.0 L1419.1,835.8 L1423.0,834.6 L1426.8,833.5 L1430.6,832.3 L1434.5,831.1 L1438.3,829.8 L1442.1,828.6 L1445.9,827.4 L1449.8,826.2 L1453.6,824.9 L1457.4,823.7 L1461.2,822.4 L1465.0,821.2 L1468.8,819.9 L1472.6,818.6 L1476.4,817.3 L1480.2,816.0 L1484.0,814.7 L1487.8,813.4 L1491.6,812.1 L1495.4,810.8 L1499.2,809.5 L1503.0,808.1 L1506.8,806.8 L1510.5,805.5 L1514.3,804.1 L1518.1,802.7 L1521.9,801.4 L1525.6,800.0 L1529.4,798.6 L1533.2,797.2 L1536.9,795.8 L1540.7,794.4 L1544.5,793.0 L1548.2,791.6 L1552.0,790.2 L1555.7,788.8 L1559.5,787.4 L1563.2,785.9 L1567.0,784.5 L1570.7,783.0 L1574.5,781.6 L1578.2,780.1 L1581.9,778.7 L1585.7,777.2 L1589.4,775.7 L1593.1,774.2 L1596.9,772.7 L1600.6,771.3 L1604.3,769.8 L1608.0,768.3 L1611.8,766.8 L1615.5,765.2 L1619.2,763.7 L1622.9,762.2 L1626.6,760.7 L1630.3,759.1 L1634.0,757.6 L1637.8,756.1 L1641.5,754.5 L1645.2,753.0 L1648.9,751.4 L1652.6,749.8 L1656.2,748.3 L1659.9,746.7 L1663.6,745.1 L1667.3,743.5 L1671.0,742.0 L1674.7,740.4 L1678.4,738.8 L1682.1,737.2 L1685.7,735.6 L1689.4,734.0 L1693.1,732.4 L1696.8,730.7 L1700.4,729.1 L1704.1,727.5 L1707.8,725.9 L1711.5,724.3 L1715.1,722.7 L1718.8,721.0 L1722.5,719.4 L1726.1,717.8 L1729.8,716.2 L1733.5,714.5 L1737.1,712.9 L1740.8,711.3 L1744.5,709.7 L1748.1,708.0 L1751.8,706.4 L1755.5,704.8 L1759.1,703.2 L1762.8,701.6 L1766.5,700.0 L1770.2,698.3 L1773.8,696.7 L1777.5,695.1 L1781.2,693.5 L1784.8,691.9 L1788.5,690.4 L1792.2,688.8 L1795.9,687.2 L1799.6,685.6 L1803.2,684.0 L1806.9,682.4 L1810.6,680.9 L1814.3,679.3 L1818.0,677.7 L1821.6,676.1 L1825.3,674.6 L1829.0,673.0 L1832.7,671.4 L1836.4,669.8 L1840.1,668.2 L1843.7,666.7 L1847.4,665.1 L1851.1,663.5 L1854.8,661.9 L1858.4,660.3 L1862.1,658.7 L1865.8,657.1 L1869.5,655.5 L1873.1,653.8 L1876.8,652.2 L1880.5,650.6 L1884.1,649.0 L1887.8,647.3 L1891.5,645.7 L1895.1,644.1 L1898.8,642.4 L1902.5,640.8 L1906.1,639.1 L1909.8,637.5 L1913.4,635.8 L1917.1,634.1 L1920.7,632.4 L1924.4,630.8 L1928.0,629.1 L1931.7,627.4 L1935.3,625.7 L1938.9,624.0 L1942.6,622.3 L1946.2,620.6 L1949.9,618.9 L1953.5,617.2 L1957.1,615.5 L1960.7,613.8 L1964.4,612.0 L1968.0,610.3 L1971.6,608.6 L1975.2,606.8 L1978.9,605.1 L1982.5,603.3 L1986.1,601.6 L1989.7,599.8 L1993.3,598.1 L1996.9,596.3 L2000.5,594.5 L2004.1,592.7 L2007.7,591.0 L2011.3,589.2 L2014.9,587.4 L2018.5,585.6 L2022.1,583.8 L2025.7,582.0 L2029.3,580.2 L2032.8,578.4 L2036.4,576.6 L2040.0,574.7 L2043.6,572.9 L2047.1,571.1 L2050.7,569.3 L2054.3,567.4 L2057.8,565.6 L2061.4,563.8 L2065.0,561.9 L2068.5,560.1 L2072.1,558.3 L2075.7,556.5 L2079.3,554.6 L2082.8,552.8 L2086.4,551.0 L2090.0,549.2 L2093.6,547.5 L2097.2,545.7 L2100.8,543.9 L2104.4,542.2 L2108.0,540.5 L2111.7,538.8 L2115.3,537.1 L2118.9,535.4 L2122.6,533.7 L2126.3,532.1 L2129.9,530.5 L2133.6,528.9 L2137.3,527.3 L2141.0,525.8 L2144.8,524.2 L2148.5,522.7 L2152.3,521.3 L2156.0,519.8" stroke="#ff00ff"/>
<path d="M216.0,608.0 L217.0,612.0 L217.9,616.0 L218.8,619.9 L219.7,623.9 L220.5,627.8 L221.3,631.7 L222.1,635.5 L222.9,639.4 L223.7,643.2 L224.5,647.1 L225.3,650.9 L226.1,654.8 L226.9,658.6 L227.8,662.5 L228.7,666.4 L229.6,670.3 L230.6,674.3 L231.6,678.2 L232.7,682.2 L233.9,686.3 L235.1,690.3 L236.4,694.4 L237.8,698.4 L239.4,702.3 L241.1,706.1 L242.9,709.7 L244.9,713.1 L247.1,716.3 L249.5,719.2 L252.1,721.9 L255.0,724.1 L258.1,726.0 L261.5,727.6 L265.0,728.8 L268.7,729.7 L272.6,730.4 L276.5,730.9 L280.6,731.2 L284.7,731.5 L288.8,731.7 L292.9,732.0 L297.0,732.4 L301.1,733.1 L305.0,733.9 L308.9,735.0 L312.7,736.3 L316.4,737.8 L319.9,739.5 L323.4,741.4 L326.7,743.4 L329.9,745.6 L333.0,748.0 L336.1,750.5 L339.0,753.1 L341.9,755.8 L344.7,758.6 L347.5,761.5 L350.2,764.5 L352.8,767.5 L355.4,770.6 L358.0,773.8 L360.6,776.9 L363.1,780.1 L365.6,783.3 L368.1,786.4 L370.6,789.6 L373.1,792.8 L375.6,796.0 L378.1,799.2 L380.5,802.4 L383.0,805.6 L385.4,808.9 L387.8,812.1 L390.2,815.3 L392.6,818.6 L395.0,821.8 L397.4,825.0 L399.7,828.3 L402.1,831.5 L404.5,834.8 L406.8,838.1 L409.1,841.3 L411.4,844.6 L413.8,847.9 L416.1,851.2 L418.4,854.5 L420.7,857.8 L422.9,861.0 L425.2,864.3 L427.5,867.6 L429.7,871.0 L432.0,874.3 L434.2,877.6 L436.5,880.9 L438.7,884.2 L440.9,887.5 L443.2,890.9 L445.4,894.2 L447.6,897.5 L449.8,900.9 L452.0,904.2 L454.2,907.5 L456.4,910.9 L458.6,914.2 L460.8,917.6 L462.9,920.9 L465.1,924.3 L467.3,927.6 L469.5,931.0 L471.6,934.4 L473.8,937.7 L475.9,941.1 L478.1,944.4 L480.3,947.8 L482.4,951.2 L484.6,954.5 L486.7,957.9 L488.9,961.3 L491.0,964.7 L493.2,968.0 L495.3,971.4 L497.5,974.8 L499.6,978.2 L501.8,981.5 L503.9,984.9 L506.1,988.3 L508.2,991.7 L510.4,995.0 L512.5,998.4 L514.7,1001.8 L516.8,1005.2 L519.0,1008.5 L521.1,1011.9 L523.3,1015.3 L525.4,1018.7 L527.6,1022.1 L529.8,1025.4 L531.9,1028.8 L534.1,1032.2 L536.3,1035.6 L538.5,1038.9 L540.7,1042.3 L542.9,1045.7 L545.0,1049.0 L547.2,1052.4 L549.4,1055.8 L551.7,1059.1 L553.9,1062.5 L556.1,1065.9 L558.3,1069.2 L560.6,1072.6 L562.8,1075.9 L565.1,1079.2 L567.4,1082.5 L569.7,1085.8 L572.0,1089.1 L574.3,1092.4 L576.7,1095.6 L579.1,1098.9 L581.5,1102.1 L583.9,1105.3 L586.3,1108.4 L588.8,1111.6 L591.3,1114.7 L593.8,1117.8 L596.4,1120.8 L599.0,1123.8 L601.6,1126.8 L604.3,1129.8 L607.0,1132.7 L609.8,1135.6 L612.6,1138.4 L615.4,1141.3 L618.2,1144.0 L621.2,1146.8 L624.1,1149.5 L627.1,1152.1 L630.2,1154.7 L633.3,1157.3 L636.4,1159.8 L639.7,1162.2 L642.9,1164.6 L646.2,1167.0 L649.6,1169.3 L653.1,1171.5 L656.5,1173.7 L660.1,1175.7 L663.6,1177.7 L667.2,1179.6 L670.9,1181.3 L674.6,1182.9 L678.3,1184.4 L682.0,1185.7 L685.8,1186.9 L689.6,1187.9 L693.4,1188.7 L697.3,1189.3 L701.1,1189.7 L705.0,1190.0 L708.8,1190.0 L712.7,1189.7 L716.6,1189.3 L720.5,1188.7 L724.4,1187.9 L728.2,1187.0 L732.1,1185.9 L735.9,1184.7 L739.8,1183.3 L743.6,1181.9 L747.4,1180.3 L751.1,1178.7 L754.8,1177.0 L758.5,1175.2 L762.2,1173.4 L765.8,1171.5 L769.4,1169.6 L773.0,1167.7 L776.5,1165.7 L780.0,1163.7 L783.5,1161.7 L786.9,1159.6 L790.3,1157.4 L793.7,1155.3 L797.1,1153.1 L800.4,1150.8 L803.7,1148.6 L807.0,1146.3 L810.2,1144.0 L813.5,1141.6 L816.7,1139.2 L819.9,1136.8 L823.0,1134.4 L826.2,1131.9 L829.3,1129.5 L832.4,1126.9 L835.5,1124.4 L838.6,1121.9 L841.7,1119.3 L844.7,1116.7 L847.7,1114.1 L850.8,1111.5 L853.8,1108.9 L856.8,1106.2 L859.8,1103.6 L862.7,1100.9 L865.7,1098.2 L868.7,1095.5 L871.6,1092.8 L874.6,1090.1 L877.5,1087.3 L880.4,1084.6 L883.4,1081.9 L886.3,1079.1 L889.2,1076.4 L892.2,1073.6 L895.1,1070.9 L898.0,1068.2 L900.9,1065.4 L903.9,1062.7 L906.8,1059.9 L909.7,1057.2 L912.7,1054.5 L915.6,1051.7 L918.6,1049.0 L921.5,1046.3 L924.5,1043.6 L927.5,1041.0 L930.5,1038.3 L933.5,1035.6 L936.5,1033.0 L939.6,1030.4 L942.6,1027.8 L945.7,1025.2 L948.7,1022.7 L951.8,1020.1 L954.9,1017.6 L958.1,1015.1 L961.2,1012.7 L964.4,1010.2 L967.6,1007.8 L970.8,1005.4 L974.0,1003.1 L977.3,1000.8 L980.6,998.5 L983.9,996.2 L987.2,993.9 L990.5,991.7 L993.9,989.5 L997.2,987.3 L1000.6,985.1 L1004.0,983.0 L1007.4,980.9 L1010.8,978.7 L1014.2,976.6 L1017.6,974.5 L1021.0,972.5 L1024.5,970.4 L1027.9,968.3 L1031.4,966.3 L1034.9,964.3 L1038.3,962.2 L1041.8,960.2 L1045.3,958.2 L1048.7,956.2 L1052.2,954.2 L1055.7,952.2 L1059.2,950.2 L1062.7,948.2 L1066.2,946.3 L1069.7,944.3 L1073.2,942.3 L1076.7,940.4 L1080.2,938.5 L1083.7,936.5 L1087.2,934.6 L1090.7,932.7 L1094.2,930.8 L1097.8,928.9 L1101.3,927.0 L1104.8,925.1 L1108.4,923.2 L1111.9,921.3 L1115.5,919.4 L1119.0,917.6 L1122.6,915.7 L1126.1,913.9 L1129.7,912.0 L1133.2,910.2 L1136.8,908.3 L1140.4,906.5 L1143.9,904.7 L1147.5,902.9 L1151.1,901.0 L1154.7,899.2 L1158.2,897.4 L1161.8,895.6 L1165.4,893.8 L1169.0,892.1 L1172.6,890.3 L1176.2,888.5 L1179.8,886.7 L1183.4,885.0 L1187.0,883.2 L1190.6,881.4 L1194.2,879.7 L1197.8,877.9 L1201.4,876.2 L1205.0,874.5 L1208.7,872.7 L1212.3,871.0 L1215.9,869.3 L1219.5,867.6 L1223.1,865.9 L1226.8,864.1 L1230.4,862.4 L1234.0,860.7 L1237.7,859.0 L1241.3,857.3 L1244.9,855.6 L1248.6,854.0 L1252.2,852.3 L1255.9,850.6 L1259.5,848.9 L1263.1,847.2 L1266.8,845.6 L1270.4,843.9 L1274.1,842.2 L1277.7,840.6 L1281.4,838.9 L1285.0,837.3 L1288.7,835.6 L1292.4,834.0 L1296.0,832.3 L1299.7,830.7 L1303.3,829.0 L1307.0,827.4 L1310.7,825.7 L1314.3,824.1 L1318.0,822.5 L1321.7,820.9 L1325.3,819.2 L1329.0,817.6 L1332.7,816.0 L1336.3,814.4 L1340.0,812.7 L1343.7,811.1 L1347.4,809.5 L1351.0,807.9 L1354.7,806.3 L1358.4,804.7 L1362.0,803.1 L1365.7,801.4 L1369.4,799.8 L1373.1,798.2 L1376.8,796.6 L1380.4,795.0 L1384.1,793.4 L1387.8,791.8 L1391.5,790.2 L1395.1,788.6 L1398.8,787.0 L1402.5,785.4 L1406.2,783.8 L1409.9,782.2 L1413.5,780.6 L1417.2,779.0 L1420.9,777.4 L1424.6,775.8 L1428.2,774.2 L1431.9,772.6 L1435.6,771.0 L1439.3,769.4 L1443.0,767.8 L1446.6,766.2 L1450.3,764.6 L1454.0,763.0 L1457.7,761.4 L1461.3,759.8 L1465.0,758.2 L1468.7,756.6 L1472.4,755.0 L1476.0,753.4 L1479.7,751.8 L1483.4,750.2 L1487.0,748.6 L1490.7,747.0 L1494.4,745.4 L1498.1,743.7 L1501.7,742.1 L1505.4,740.5 L1509.1,738.9 L1512.7,737.3 L1516.4,735.6 L1520.0,734.0 L1523.7,732.4 L1527.4,730.7 L1531.0,729.1 L1534.7,727.4 L1538.3,725.8 L1542.0,724.2 L1545.6,722.5 L1549.3,720.8 L1552.9,719.2 L1556.6,717.5 L1560.2,715.9 L1563.9,714.2 L1567.5,712.5 L1571.2,710.9 L1574.8,709.2 L1578.4,707.5 L1582.1,705.8 L1585.7,704.1 L1589.3,702.4 L1593.0,700.7 L1596.6,699.0 L1600.2,697.3 L1603.8,695.6 L1607.5,693.9 L1611.1,692.1 L1614.7,690.4 L1618.3,688.7 L1621.9,686.9 L1625.5,685.2 L1629.1,683.4 L1632.7,681.7 L1636.3,679.9 L1640.0,678.1 L1643.6,676.4 L1647.2,674.6 L1650.7,672.8 L1654.3,671.0 L1657.9,669.3 L1661.5,667.5 L1665.1,665.7 L1668.7,663.9 L1672.3,662.1 L1675.9,660.3 L1679.5,658.6 L1683.1,656.8 L1686.7,655.0 L1690.3,653.2 L1693.9,651.4 L1697.5,649.6 L1701.1,647.8 L1704.7,646.1 L1708.2,644.3 L1711.8,642.5 L1715.4,640.7 L1719.0,639.0 L1722.6,637.2 L1726.3,635.4 L1729.9,633.7 L1733.5,631.9 L1737.1,630.2 L1740.7,628.4 L1744.3,626.7 L1747.9,625.0 L1751.5,623.3 L1755.2,621.5 L1758.8,619.8 L1762.4,618.1 L1766.1,616.5 L1769.7,614.8 L1773.3,613.1 L1777.0,611.4 L1780.6,609.8 L1784.3,608.1 L1788.0,606.5 L1791.6,604.9 L1795.3,603.3 L1799.0,601.6 L1802.6,600.1 L1806.3,598.5 L1810.0,596.9 L1813.7,595.4 L1817.4,593.8 L1821.1,592.3 L1824.8,590.8 L1828.5,589.3 L1832.3,587.8 L1836.0,586.3 L1839.7,584.8 L1843.4,583.4 L1847.2,581.9 L1850.9,580.5 L1854.7,579.0 L1858.4,577.6 L1862.1,576.1 L1865.9,574.7 L1869.6,573.3 L1873.4,571.8 L1877.1,570.4 L1880.9,569.0 L1884.6,567.6 L1888.4,566.1 L1892.1,564.7 L1895.9,563.2 L1899.6,561.8 L1903.4,560.4 L1907.1,558.9 L1910.8,557.4 L1914.6,555.9 L1918.3,554.5 L1922.0,553.0 L1925.7,551.5 L1929.4,549.9 L1933.2,548.4 L1936.9,546.8 L1940.5,545.3 L1944.2,543.7 L1947.9,542.1 L1951.6,540.5 L1955.3,538.8 L1958.9,537.2 L1962.6,535.5 L1966.2,533.8 L1969.8,532.1 L1973.4,530.4 L1977.1,528.6 L1980.7,526.9 L1984.3,525.1 L1987.9,523.4 L1991.5,521.6 L1995.1,519.8 L1998.7,518.1 L2002.4,516.4 L2006.0,514.7 L2009.6,513.0 L2013.3,511.3 L2016.9,509.6 L2020.6,508.0 L2024.3,506.4 L2027.9,504.9 L2031.7,503.4 L2035.4,501.9 L2039.1,500.5 L2042.9,499.1 L2046.7,497.8 L2050.4,496.5 L2054.3,495.3 L2058.1,494.1 L2061.9,492.9 L2065.8,491.8 L2069.6,490.7 L2073.5,489.6 L2077.4,488.6 L2081.3,487.6 L2085.2,486.6 L2089.1,485.7 L2093.0,484.8 L2096.9,483.9 L2100.8,483.0 L2104.8,482.2 L2108.7,481.3 L2112.6,480.5 L2116.6,479.7 L2120.5,478.9 L2124.5,478.1 L2128.4,477.3 L2132.3,476.6 L2136.3,475.8 L2140.2,475.1 L2144.1,474.3 L2148.1,473.6 L2152.0,472.8 L2155.9,472.1" stroke="#008000"/>
<path d="M217.0,407.2 L217.5,411.1 L218.1,415.0 L218.6,419.0 L219.1,422.9 L219.6,426.8 L220.1,430.8 L220.5,434.8 L221.0,438.7 L221.5,442.7 L221.9,446.7 L222.4,450.6 L222.8,454.6 L223.3,458.6 L223.8,462.6 L224.3,466.6 L224.7,470.6 L225.2,474.5 L225.8,478.5 L226.3,482.5 L226.8,486.5 L227.4,490.5 L227.9,494.5 L228.5,498.4 L229.2,502.4 L229.8,506.4 L230.5,510.3 L231.2,514.3 L231.9,518.3 L232.7,522.2 L233.5,526.2 L234.3,530.1 L235.2,534.0 L236.1,537.9 L237.0,541.8 L238.0,545.8 L239.1,549.6 L240.2,553.5 L241.3,557.4 L242.5,561.3 L243.7,565.1 L245.0,569.0 L246.3,572.8 L247.7,576.6 L249.2,580.3 L250.8,584.0 L252.4,587.7 L254.1,591.3 L255.9,594.8 L257.8,598.3 L259.8,601.7 L261.9,605.0 L264.1,608.3 L266.3,611.4 L268.8,614.5 L271.3,617.4 L273.9,620.2 L276.7,622.9 L279.6,625.5 L282.6,628.0 L285.8,630.3 L289.1,632.5 L292.5,634.6 L296.0,636.6 L299.5,638.5 L303.1,640.5 L306.7,642.4 L310.3,644.3 L313.9,646.2 L317.4,648.2 L321.0,650.2 L324.4,652.3 L327.8,654.5 L331.0,656.8 L334.2,659.3 L337.3,661.8 L340.3,664.4 L343.3,667.1 L346.1,669.9 L349.0,672.7 L351.7,675.6 L354.4,678.6 L357.0,681.6 L359.6,684.6 L362.2,687.7 L364.7,690.9 L367.2,694.0 L369.7,697.2 L372.2,700.4 L374.6,703.5 L377.1,706.7 L379.5,709.9 L381.9,713.1 L384.3,716.4 L386.7,719.6 L389.1,722.8 L391.5,726.0 L393.8,729.3 L396.2,732.5 L398.5,735.8 L400.9,739.0 L403.2,742.3 L405.5,745.5 L407.8,748.8 L410.1,752.1 L412.4,755.4 L414.7,758.6 L417.0,761.9 L419.3,765.2 L421.5,768.5 L423.8,771.8 L426.1,775.1 L428.3,778.4 L430.5,781.7 L432.8,785.0 L435.0,788.3 L437.3,791.6 L439.5,794.9 L441.7,798.3 L443.9,801.6 L446.1,804.9 L448.4,808.2 L450.6,811.5 L452.8,814.9 L455.0,818.2 L457.2,821.5 L459.4,824.8 L461.6,828.2 L463.8,831.5 L466.0,834.8 L468.2,838.2 L470.4,841.5 L472.6,844.8 L474.9,848.2 L477.1,851.5 L479.3,854.8 L481.5,858.1 L483.7,861.5 L485.9,864.8 L488.2,868.1 L490.4,871.4 L492.6,874.8 L494.9,878.1 L497.1,881.4 L499.3,884.7 L501.6,888.0 L503.8,891.4 L506.1,894.7 L508.4,898.0 L510.6,901.3 L512.9,904.6 L515.2,907.9 L517.5,911.2 L519.8,914.5 L522.1,917.7 L524.4,921.0 L526.7,924.3 L529.1,927.6 L531.4,930.9 L533.8,934.1 L536.1,937.4 L538.5,940.6 L540.9,943.9 L543.3,947.1 L545.7,950.4 L548.1,953.6 L550.5,956.9 L553.0,960.1 L555.4,963.3 L557.9,966.5 L560.3,969.7 L562.8,972.9 L565.3,976.1 L567.9,979.3 L570.4,982.5 L572.9,985.6 L575.5,988.8 L578.1,992.0 L580.7,995.1 L583.3,998.2 L585.9,1001.3 L588.6,1004.4 L591.3,1007.4 L594.0,1010.4 L596.7,1013.4 L599.5,1016.3 L602.3,1019.2 L605.2,1022.0 L608.0,1024.8 L611.0,1027.5 L613.9,1030.2 L616.9,1032.7 L620.0,1035.3 L623.0,1037.7 L626.2,1040.1 L629.4,1042.4 L632.6,1044.7 L635.9,1046.8 L639.2,1048.9 L642.6,1050.8 L646.0,1052.7 L649.5,1054.5 L653.1,1056.1 L656.7,1057.7 L660.4,1059.1 L664.1,1060.5 L667.9,1061.7 L671.8,1062.8 L675.7,1063.7 L679.6,1064.6 L683.5,1065.2 L687.5,1065.8 L691.5,1066.2 L695.5,1066.4 L699.4,1066.5 L703.4,1066.4 L707.4,1066.2 L711.4,1065.8 L715.3,1065.2 L719.3,1064.5 L723.2,1063.7 L727.1,1062.7 L730.9,1061.6 L734.8,1060.3 L738.6,1059.0 L742.4,1057.6 L746.2,1056.1 L750.0,1054.5 L753.7,1052.8 L757.4,1051.1 L761.0,1049.3 L764.7,1047.5 L768.3,1045.6 L771.9,1043.7 L775.4,1041.8 L778.9,1039.8 L782.4,1037.8 L785.8,1035.8 L789.3,1033.7 L792.7,1031.6 L796.1,1029.5 L799.4,1027.4 L802.8,1025.2 L806.1,1023.0 L809.4,1020.8 L812.7,1018.5 L815.9,1016.3 L819.2,1014.0 L822.4,1011.7 L825.6,1009.3 L828.9,1007.0 L832.1,1004.6 L835.3,1002.2 L838.5,999.8 L841.7,997.4 L844.8,995.0 L848.0,992.5 L851.2,990.1 L854.4,987.6 L857.5,985.1 L860.7,982.7 L863.9,980.2 L867.0,977.7 L870.2,975.3 L873.4,972.8 L876.6,970.4 L879.8,967.9 L883.0,965.5 L886.2,963.1 L889.4,960.7 L892.6,958.3 L895.8,955.9 L899.1,953.5 L902.4,951.2 L905.6,948.9 L908.9,946.6 L912.2,944.4 L915.6,942.1 L918.9,939.9 L922.2,937.7 L925.6,935.6 L929.0,933.4 L932.4,931.3 L935.8,929.2 L939.2,927.1 L942.6,925.0 L946.1,923.0 L949.5,921.0 L953.0,919.0 L956.4,917.0 L959.9,915.0 L963.4,913.0 L966.9,911.0 L970.4,909.1 L973.9,907.2 L977.4,905.2 L980.9,903.3 L984.5,901.4 L988.0,899.5 L991.5,897.6 L995.0,895.7 L998.6,893.8 L1002.1,891.9 L1005.7,890.0 L1009.2,888.2 L1012.8,886.3 L1016.3,884.4 L1019.9,882.6 L1023.4,880.7 L1027.0,878.9 L1030.6,877.0 L1034.1,875.2 L1037.7,873.4 L1041.3,871.5 L1044.8,869.7 L1048.4,867.9 L1052.0,866.1 L1055.6,864.4 L1059.2,862.6 L1062.7,860.8 L1066.3,859.1 L1069.9,857.4 L1073.5,855.7 L1077.1,854.0 L1080.7,852.3 L1084.3,850.6 L1088.0,848.9 L1091.6,847.3 L1095.2,845.6 L1098.8,844.0 L1102.4,842.4 L1106.1,840.8 L1109.7,839.2 L1113.3,837.6 L1117.0,836.1 L1120.6,834.5 L1124.2,832.9 L1127.9,831.3 L1131.5,829.7 L1135.1,828.1 L1138.8,826.6 L1142.4,825.0 L1146.1,823.4 L1149.7,821.8 L1153.4,820.2 L1157.0,818.7 L1160.7,817.1 L1164.4,815.5 L1168.0,813.9 L1171.7,812.4 L1175.4,810.8 L1179.1,809.2 L1182.8,807.7 L1186.5,806.1 L1190.2,804.6 L1193.8,803.0 L1197.6,801.5 L1201.3,799.9 L1205.0,798.4 L1208.7,796.9 L1212.4,795.4 L1216.1,793.9 L1219.8,792.4 L1223.5,790.9 L1227.3,789.4 L1231.0,787.9 L1234.7,786.4 L1238.5,785.0 L1242.2,783.5 L1245.9,782.1 L1249.7,780.6 L1253.4,779.2 L1257.2,777.8 L1260.9,776.4 L1264.7,775.0 L1268.4,773.6 L1272.2,772.2 L1276.0,770.8 L1279.7,769.5 L1283.5,768.1 L1287.3,766.7 L1291.0,765.4 L1294.8,764.1 L1298.6,762.8 L1302.4,761.4 L1306.2,760.1 L1310.0,758.8 L1313.8,757.6 L1317.5,756.3 L1321.3,755.0 L1325.1,753.7 L1328.9,752.4 L1332.7,751.1 L1336.5,749.9 L1340.3,748.6 L1344.1,747.3 L1347.9,746.0 L1351.7,744.7 L1355.5,743.4 L1359.3,742.1 L1363.1,740.8 L1366.8,739.5 L1370.6,738.2 L1374.4,736.8 L1378.2,735.5 L1381.9,734.1 L1385.7,732.7 L1389.4,731.3 L1393.2,729.9 L1396.9,728.5 L1400.7,727.1 L1404.4,725.6 L1408.1,724.1 L1411.8,722.6 L1415.6,721.1 L1419.3,719.6 L1423.0,718.0 L1426.7,716.5 L1430.4,714.9 L1434.1,713.4 L1437.8,711.8 L1441.4,710.2 L1445.1,708.7 L1448.8,707.1 L1452.5,705.5 L1456.2,704.0 L1459.9,702.4 L1463.6,700.8 L1467.3,699.3 L1471.0,697.8 L1474.7,696.3 L1478.4,694.8 L1482.2,693.3 L1485.9,691.8 L1489.6,690.4 L1493.4,688.9 L1497.1,687.5 L1500.9,686.2 L1504.6,684.8 L1508.4,683.4 L1512.2,682.1 L1515.9,680.8 L1519.7,679.5 L1523.5,678.2 L1527.3,676.9 L1531.1,675.6 L1534.9,674.4 L1538.7,673.1 L1542.5,671.9 L1546.3,670.6 L1550.0,669.4 L1553.8,668.1 L1557.6,666.9 L1561.4,665.6 L1565.2,664.4 L1569.0,663.1 L1572.8,661.8 L1576.5,660.5 L1580.3,659.2 L1584.0,657.8 L1587.8,656.4 L1591.5,654.9 L1595.2,653.5 L1598.9,652.0 L1602.7,650.5 L1606.3,649.0 L1610.0,647.5 L1613.7,645.9 L1617.4,644.3 L1621.1,642.7 L1624.8,641.1 L1628.4,639.5 L1632.1,637.9 L1635.7,636.3 L1639.4,634.7 L1643.1,633.0 L1646.7,631.4 L1650.4,629.7 L1654.0,628.1 L1657.7,626.5 L1661.4,624.8 L1665.0,623.2 L1668.7,621.6 L1672.4,620.0 L1676.0,618.4 L1679.7,616.8 L1683.4,615.2 L1687.1,613.6 L1690.8,612.0 L1694.4,610.4 L1698.1,608.9 L1701.8,607.3 L1705.5,605.8 L1709.2,604.2 L1712.9,602.7 L1716.6,601.1 L1720.3,599.6 L1724.0,598.1 L1727.7,596.6 L1731.4,595.0 L1735.1,593.5 L1738.8,592.0 L1742.5,590.5 L1746.3,589.0 L1750.0,587.5 L1753.7,586.0 L1757.4,584.5 L1761.1,583.0 L1764.8,581.5 L1768.6,580.0 L1772.3,578.5 L1776.0,577.0 L1779.7,575.5 L1783.4,574.1 L1787.2,572.6 L1790.9,571.1 L1794.6,569.6 L1798.3,568.1 L1802.0,566.7 L1805.8,565.2 L1809.5,563.7 L1813.2,562.2 L1816.9,560.7 L1820.6,559.2 L1824.4,557.8 L1828.1,556.3 L1831.8,554.8 L1835.5,553.3 L1839.2,551.8 L1843.0,550.3 L1846.7,548.8 L1850.4,547.3 L1854.1,545.8 L1857.8,544.3 L1861.5,542.8 L1865.2,541.3 L1868.9,539.7 L1872.6,538.2 L1876.3,536.7 L1880.0,535.2 L1883.7,533.6 L1887.4,532.1 L1891.1,530.5 L1894.8,529.0 L1898.5,527.4 L1902.2,525.9 L1905.9,524.3 L1909.6,522.7 L1913.2,521.1 L1916.9,519.6 L1920.6,518.0 L1924.3,516.4 L1927.9,514.7 L1931.6,513.1 L1935.3,511.5 L1938.9,509.9 L1942.6,508.2 L1946.2,506.6 L1949.9,504.9 L1953.5,503.2 L1957.1,501.6 L1960.8,499.9 L1964.4,498.2 L1968.0,496.5 L1971.7,494.7 L1975.3,493.0 L1978.9,491.3 L1982.5,489.5 L1986.1,487.8 L1989.7,486.0 L1993.3,484.2 L1996.9,482.4 L2000.4,480.6 L2004.0,478.8 L2007.6,477.0 L2011.2,475.1 L2014.7,473.3 L2018.3,471.4 L2021.9,469.6 L2025.4,467.7 L2029.0,465.9 L2032.6,464.1 L2036.1,462.2 L2039.7,460.4 L2043.3,458.6 L2046.8,456.8 L2050.4,455.0 L2054.0,453.2 L2057.6,451.5 L2061.2,449.7 L2064.8,448.0 L2068.5,446.3 L2072.1,444.7 L2075.7,443.0 L2079.4,441.4 L2083.1,439.8 L2086.7,438.3 L2090.4,436.8 L2094.2,435.3 L2097.9,433.9 L2101.6,432.5 L2105.4,431.1 L2109.1,429.8 L2112.9,428.6 L2116.8,427.4 L2120.6,426.2 L2124.4,425.1 L2128.3,424.1 L2132.2,423.1 L2136.1,422.1 L2140.1,421.2 L2144.1,420.4 L2148.1,419.7 L2152.1,419.0 L2156.1,418.4" stroke="#000080"/>
</g>
<line x1="1587.5" x2="1773.5" y1="883.7" y2="883.7" stroke="#000000" stroke-width="12" stroke-linecap="round"/>
<text transform="translate(1795.5,912.5) scale(1,1.025)" font-size="83.3">Chitosan</text>
<line x1="1587.5" x2="1773.5" y1="986.0" y2="986.0" stroke="#ff0000" stroke-width="12" stroke-linecap="round"/>
<text transform="translate(1795.5,1014.8) scale(1,1.025)" font-size="83.3">Dextran</text>
<line x1="1587.5" x2="1773.5" y1="1088.2" y2="1088.2" stroke="#0000ff" stroke-width="12" stroke-linecap="round"/>
<text transform="translate(1795.5,1117.0) scale(1,1.045)" font-size="83.3">B1</text>
<line x1="1587.5" x2="1773.5" y1="1190.5" y2="1190.5" stroke="#ff00ff" stroke-width="12" stroke-linecap="round"/>
<text transform="translate(1795.5,1219.2) scale(1,1.045)" font-size="83.3">B2</text>
<line x1="1587.5" x2="1773.5" y1="1292.7" y2="1292.7" stroke="#008000" stroke-width="12" stroke-linecap="round"/>
<text transform="translate(1795.5,1321.5) scale(1,1.045)" font-size="83.3">B3</text>
<line x1="1587.5" x2="1773.5" y1="1395.0" y2="1395.0" stroke="#000080" stroke-width="12" stroke-linecap="round"/>
<text transform="translate(1795.5,1423.8) scale(1,1.045)" font-size="83.3">B4</text>

<g clip-path="url(#t)"><text transform="translate(1181,1657) scale(1,1.02)" font-size="98" text-anchor="middle" textLength="756" lengthAdjust="spacing">Temperature (°C)</text></g>
<text transform="translate(93.5,683.5) rotate(-90) scale(1,1.02)" font-size="98" text-anchor="middle" textLength="962" lengthAdjust="spacing">Heat Flow Endo Down</text>
</svg>
</body></html>
